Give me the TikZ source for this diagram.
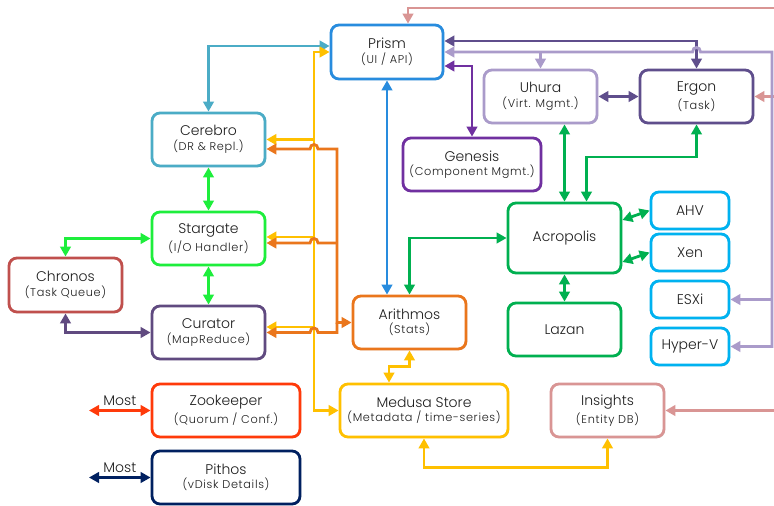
\documentclass[tikz,border=0pt]{standalone}
\usepackage{fontspec}
\setmainfont{Poppins}[UprightFont=* Light]
\newfontfamily\subfam{Poppins}[UprightFont=* Light, LetterSpace=6]
\usetikzlibrary{arrows.meta,shadows}
\definecolor{txtc}{RGB}{30,30,30}
\definecolor{prc}{RGB}{40,140,222}
\definecolor{uhc}{RGB}{170,155,202}
\definecolor{ergc}{RGB}{95,78,140}
\definecolor{genc}{RGB}{112,48,160}
\definecolor{cerc}{RGB}{75,172,198}
\definecolor{stc}{RGB}{30,238,60}
\definecolor{chrc}{RGB}{192,80,77}
\definecolor{curc}{RGB}{96,74,128}
\definecolor{acrc}{RGB}{0,176,80}
\definecolor{hvc}{RGB}{0,178,240}
\definecolor{aric}{RGB}{234,118,28}
\definecolor{medc}{RGB}{255,192,0}
\definecolor{insc}{RGB}{217,149,148}
\definecolor{zkc}{RGB}{255,58,10}
\definecolor{pitc}{RGB}{0,32,96}
\newcommand{\tl}[2]{{\fontsize{14pt}{16pt}\selectfont #1}\\[2.5pt]{\subfam\fontsize{11.3pt}{12pt}\selectfont #2}}
\newcommand{\ol}[1]{{\fontsize{14pt}{16pt}\selectfont #1}}
\begin{document}
\begin{tikzpicture}[x=1pt,y=-1pt,
  box/.style={draw=#1, line width=2.8pt, rounded corners=8pt, fill=white, align=center,
    inner sep=0pt, minimum width=113pt, minimum height=53pt, text=txtc,
    drop shadow={shadow xshift=1.2pt, shadow yshift=-1.2pt, opacity=0.18, fill=black}},
  hv/.style={box=hvc, minimum width=78pt, minimum height=37pt},
  c/.style={draw=#1, line width=2.8pt, line join=miter},
  >={Triangle[length=10pt,width=10.5pt]},
  most/.style={text=txtc, font=\fontsize{14pt}{16pt}\selectfont, inner sep=1pt}]
\useasboundingbox[fill=white] (0,0) rectangle (774,506);

% nodes
\node[box=prc, minimum width=112pt, minimum height=54pt] (prism) at (387,52) {\tl{Prism}{(UI / API)}};
\node[box=uhc] (uhura) at (540.5,96.5) {\tl{Uhura}{(Virt. Mgmt.)}};
\node[box=ergc] (ergon) at (696.5,96.5) {\tl{Ergon}{(Task)}};
\node[box=genc, minimum width=138pt] (genesis) at (472,164.5) {\tl{Genesis}{(Component Mgmt.)}};
\node[box=cerc] (cerebro) at (208.5,139.5) {\tl{Cerebro}{(DR \& Repl.)}};
\node[box=stc] (stargate) at (208.5,238.5) {\tl{Stargate}{(I/O Handler)}};
\node[box=chrc, minimum height=54pt] (chronos) at (65.5,285) {\tl{Chronos}{(Task Queue)}};
\node[box=curc] (curator) at (208.5,332.5) {\tl{Curator}{(MapReduce)}};
\node[box=acrc, minimum height=70pt] (acropolis) at (564.5,238) {\ol{Acropolis}};
\node[box=acrc] (lazan) at (564.5,329.5) {\ol{Lazan}};
\node[hv] (ahv) at (690,210.5) {\ol{AHV}};
\node[hv] (xen) at (690,252.5) {\ol{Xen}};
\node[hv] (esxi) at (690,299.5) {\ol{ESXi}};
\node[hv] (hyperv) at (690,346.5) {\ol{Hyper-V}};
\node[box=aric] (arithmos) at (409.5,322.5) {\tl{Arithmos}{(Stats)}};
\node[box=medc, minimum width=168pt] (medusa) at (424,410.5) {\tl{Medusa Store}{(Metadata / time-series)}};
\node[box=insc] (insights) at (607.5,410.5) {\tl{Insights}{(Entity DB)}};
\node[box=zkc, minimum width=148pt] (zookeeper) at (226,410.5) {\tl{Zookeeper}{(Quorum / Conf.)}};
\node[box=pitc, minimum width=148pt] (pithos) at (226,477.5) {\tl{Pithos}{(vDisk Details)}};

% free-end coordinates
\coordinate (eTop) at (774,8);
\coordinate (eErg) at (774,96.5);
\coordinate (eIns) at (774,410.5);
\coordinate (vx) at (772,52);
\coordinate (yt) at (314,410.5);
\coordinate (ot) at (337,149);
\coordinate (zk) at (89,410.5);
\coordinate (pt) at (89,477.5);

% pink (Insights colour)
\draw[c=insc,->] (eTop) -| ([xshift=21pt]prism.north);
\draw[c=insc,->] (eErg) -- (ergon.east);
\draw[c=insc,->] (eIns) -- (insights.east);

% purple lines from Prism
\draw[c=ergc,<->] (prism.east |- 0,41) -| (ergon.north);
\draw[c=uhc,<->] (prism.east) -- (692.5,52) .. controls (692.5,46) and (700.5,46) .. (700.5,52) -- (vx) |- (hyperv.east);
\draw[c=uhc,->] (vx |- esxi.east) -- (esxi.east);
\draw[c=uhc,->] (uhura.north |- prism.east) -- (uhura.north);
\draw[c=genc,<->] (prism.east |- 0,66) -| (genesis.north);
\draw[c=ergc,<->] (uhura.east) -- (ergon.west);

% blue
\draw[c=prc,<->] (prism.south) -- (prism.south |- arithmos.north);

% greens (Acropolis)
\draw[c=acrc,<->] (acropolis.north |- uhura.south) -- (acropolis.north);
\draw[c=acrc,<->] ([xshift=22pt]acropolis.north) |- (ergon.south |- 0,157) -- (ergon.south);
\draw[c=acrc,<->] (acropolis.west) -| (arithmos.north);
\draw[c=acrc,<->] (acropolis.east |- 0,220) -- (ahv.west);
\draw[c=acrc,<->] (acropolis.east |- 0,262) -- (xen.west);
\draw[c=acrc,<->] (acropolis.south) -- (lazan.north);

% teal
\draw[c=cerc,<->] (prism.west |- 0,46) -| (cerebro.north);

% yellow trunk
\draw[c=medc,<->] (prism.west) -| (yt) -- (medusa.west);
\draw[c=medc,->] (yt |- cerebro.east) -- (cerebro.east);
\draw[c=medc,->] (yt |- 0,237) -- (stargate.east |- 0,237);
\draw[c=medc,->] (yt |- 0,327) -- (curator.east |- 0,327);

% orange
\draw[c=aric,<->] (arithmos.west) -- (ot |- arithmos.west) -- (ot) -- (318,149) .. controls (318,143) and (310,143) .. (310,149) -- (cerebro.east |- 0,149);
\draw[c=aric,->] (ot |- 0,243) -- (318,243) .. controls (318,237) and (310,237) .. (310,243) -- (stargate.east |- 0,243);
\draw[c=aric,->] (ot |- arithmos.west) -- (ot |- curator.east) -- (318,332.5) .. controls (318,326.5) and (310,326.5) .. (310,332.5) -- (curator.east);

% yellow lower
\draw[c=medc,<->] ([xshift=-35pt]medusa.north) -- ++(0,-16) -| (arithmos.south);
\draw[c=medc,<->] (medusa.south) -- ++(0,29) -| (insights.south);

% bright green (Stargate)
\draw[c=stc,<->] (cerebro.south) -- (stargate.north);
\draw[c=stc,<->] (stargate.south) -- (curator.north);
\draw[c=stc,<->] (stargate.west) -| (chronos.north);

% curator purple
\draw[c=curc,<->] (chronos.south) |- (curator.west);

% Most
\draw[c=zkc,<->] (zk) -- node[most, above=2pt] {Most} (zookeeper.west);
\draw[c=pitc,<->] (pt) -- node[most, above=2pt] {Most} (pithos.west);
\end{tikzpicture}
\end{document}
